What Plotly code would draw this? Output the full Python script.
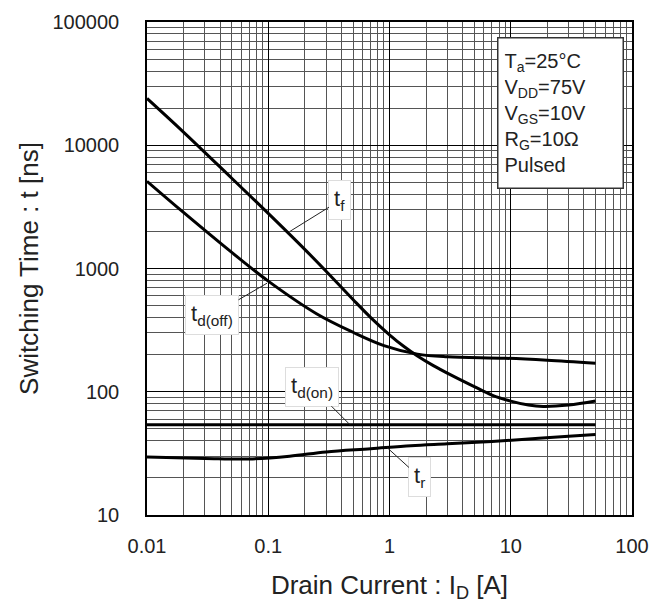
import math
import plotly.graph_objects as go

# ---- data ----
tf_x = [0.01, 0.02, 0.05, 0.1, 0.2, 0.3, 0.5, 0.7, 1.0, 1.3, 1.7, 2.3, 3.2, 5.0, 7.0, 10, 14, 18.5, 30, 50]
tf_y = [24000, 12800, 5400, 2800, 1430, 950, 560, 400, 290, 235, 195, 163, 137, 110, 94, 84, 78, 76, 78, 84]

tdoff_x = [0.01, 0.02, 0.05, 0.1, 0.25, 0.5, 0.9, 1.7, 3.0, 9.0, 20, 50]
tdoff_y = [5100, 2850, 1350, 790, 430, 304, 237, 202, 192, 187, 180, 170]

tdon_x = [0.01, 0.1, 1, 10, 50]
tdon_y = [54, 54, 54, 54, 54]

tr_x = [0.01, 0.03, 0.07, 0.15, 0.3, 0.7, 1.5, 3, 7, 15, 30, 50]
tr_y = [29.5, 28.8, 28.5, 30, 32.5, 34.5, 36.5, 37.8, 39.5, 41.5, 43.5, 45]

x_ticks = [0.01, 0.1, 1, 10, 100]
x_ticktext = ["0.01", "0.1", "1", "10", "100"]
y_ticks = [10, 100, 1000, 10000, 100000]
y_ticktext = ["10", "100", "1000", "10000", "100000"]

conditions = ["T<sub>a</sub>=25°C", "V<sub>DD</sub>=75V", "V<sub>GS</sub>=10V",
              "R<sub>G</sub>=10Ω", "Pulsed"]

FONT = "Arial, Liberation Sans, sans-serif"
TXT = "#222"

fig = go.Figure()
for xs, ys in [(tf_x, tf_y), (tdoff_x, tdoff_y), (tdon_x, tdon_y), (tr_x, tr_y)]:
    fig.add_trace(go.Scatter(x=xs, y=ys, mode="lines",
                             line=dict(color="black", width=3, shape="spline", smoothing=1),
                             showlegend=False, hoverinfo="skip"))

def minor_vals(lo_exp, hi_exp):
    return [m * 10 ** e for e in range(lo_exp, hi_exp) for m in range(2, 10)]

axis_common = dict(type="log", showline=True, linecolor="black", linewidth=1.5, mirror=True,
                   showgrid=True, gridcolor="black", gridwidth=1, zeroline=False, ticks="",
                   automargin=False,
                   tickfont=dict(family=FONT, size=20, color=TXT))

fig.update_xaxes(**axis_common, range=[-2, 2], tickmode="array", tickvals=x_ticks,
                 ticktext=x_ticktext, ticklabelstandoff=12,
                 minor=dict(tickmode="array", tickvals=minor_vals(-2, 2), showgrid=True,
                            gridcolor="#555", gridwidth=1, ticks=""),
                 title=dict(text="Drain Current : I<sub>D</sub> [A]",
                            font=dict(family=FONT, size=26, color=TXT), standoff=20))
fig.update_yaxes(**axis_common, range=[1, 5], tickmode="array", tickvals=y_ticks,
                 ticktext=y_ticktext, ticklabelstandoff=22,
                 minor=dict(tickmode="array", tickvals=minor_vals(1, 5), showgrid=True,
                            gridcolor="#555", gridwidth=1, ticks=""),
                 title=dict(text="Switching Time : t [ns]",
                            font=dict(family=FONT, size=26, color=TXT), standoff=6))

def lbl(text, x, y, ax, ay):
    fig.add_annotation(x=math.log10(x), y=math.log10(y), xref="x", yref="y",
                       text=text, showarrow=True, arrowhead=0, arrowwidth=1,
                       arrowcolor=TXT, ax=ax, ay=ay,
                       font=dict(family=FONT, size=22, color=TXT),
                       bgcolor="white", bordercolor="#ddd", borderwidth=1, borderpad=5)

lbl("t<sub>f</sub>", 0.151, 2000, 50, -31)
lbl("t<sub>d(off)</sub>", 0.0977, 760, -55, 32)
lbl("t<sub>d(on)</sub>", 0.472, 54, -38, -38)
lbl("t<sub>r</sub>", 0.953, 35.3, 33, 30)

fig.add_annotation(x=0.7216, y=0.9696, xref="paper", yref="paper", xanchor="left", yanchor="top",
                   text="<br>".join(conditions), showarrow=False, align="left", valign="middle",
                   width=112, height=137,
                   font=dict(family=FONT, size=20, color=TXT),
                   bgcolor="white", bordercolor="#333", borderwidth=1.5, borderpad=6)

# body has an 8px default margin, so compensate to place the plot area like the reference
fig.update_layout(width=666, height=614, margin=dict(l=139, r=42, t=14, b=107),
                  plot_bgcolor="white", paper_bgcolor="white")

fig.write_html("out.html")
